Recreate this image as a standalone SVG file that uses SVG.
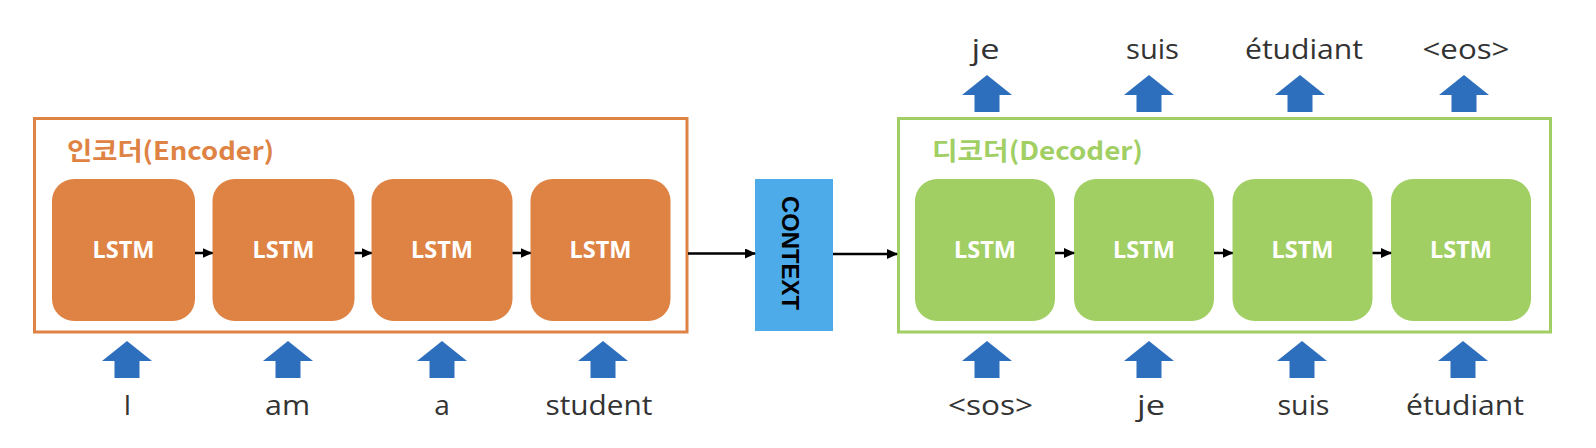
<svg xmlns="http://www.w3.org/2000/svg" width="1596" height="448" viewBox="0 0 1596 448">
<style>
.enc{fill:#DF8344}
.dec{fill:#A1CF63}
.lstm{font-family:"Noto Sans","Liberation Sans",sans-serif;font-weight:bold;font-size:23px;fill:#FFFFFF;text-anchor:middle}
.word{font-family:"Open Sans","Noto Sans","Liberation Sans",sans-serif;font-size:28px;fill:#333333;text-anchor:middle}
.title{font-family:"Noto Sans CJK KR","Noto Sans",sans-serif;font-weight:bold;font-size:25px}
.conn{stroke:#000;stroke-width:2.5;fill:none}
.up{fill:#2E6FBD}
</style>
<defs>
<marker id="ah" markerUnits="userSpaceOnUse" markerWidth="11" markerHeight="10" refX="10" refY="5" orient="auto">
<path d="M0,0 L11,5 L0,10 Z" fill="#000"/>
</marker>
<path id="uparrow" d="M0,0 L25,20 L12.5,20 L12.5,37 L-12.5,37 L-12.5,20 L-25,20 Z"/>
</defs>
<rect width="1596" height="448" fill="#FFFFFF"/>

<g id="encoder">
<rect x="34.5" y="118.5" width="652.5" height="213.5" fill="none" stroke="#DF8344" stroke-width="3"/>
<text class="title" x="67" y="160" fill="#DF8344" textLength="207" lengthAdjust="spacingAndGlyphs">인코더(Encoder)</text>
</g>
<g id="enc-lstm1"><rect class="enc" x="52" y="179" width="143" height="142" rx="22"/><text class="lstm" x="123.5" y="258" textLength="62" lengthAdjust="spacingAndGlyphs">LSTM</text></g>
<g id="enc-lstm2"><rect class="enc" x="212.5" y="179" width="142" height="142" rx="22"/><text class="lstm" x="283.5" y="258" textLength="62" lengthAdjust="spacingAndGlyphs">LSTM</text></g>
<g id="enc-lstm3"><rect class="enc" x="371.5" y="179" width="141" height="142" rx="22"/><text class="lstm" x="442" y="258" textLength="62" lengthAdjust="spacingAndGlyphs">LSTM</text></g>
<g id="enc-lstm4"><rect class="enc" x="530.5" y="179" width="140" height="142" rx="22"/><text class="lstm" x="600.5" y="258" textLength="62" lengthAdjust="spacingAndGlyphs">LSTM</text></g>

<g id="context">
<rect x="755" y="179" width="78" height="152" fill="#4EABE9"/>
<text transform="translate(782,253) rotate(90)" x="0" y="0" text-anchor="middle" font-family="Liberation Sans, Arial, sans-serif" font-weight="bold" font-size="24" fill="#000" textLength="114" lengthAdjust="spacingAndGlyphs">CONTEXT</text>
</g>

<g id="decoder">
<rect x="898.5" y="118.5" width="652" height="213.5" fill="none" stroke="#A1CF63" stroke-width="3"/>
<text class="title" x="932" y="160" fill="#A1CF63" textLength="211" lengthAdjust="spacingAndGlyphs">디코더(Decoder)</text>
</g>
<g id="dec-lstm1"><rect class="dec" x="915" y="179" width="140" height="142" rx="22"/><text class="lstm" x="985" y="258" textLength="62" lengthAdjust="spacingAndGlyphs">LSTM</text></g>
<g id="dec-lstm2"><rect class="dec" x="1074" y="179" width="140" height="142" rx="22"/><text class="lstm" x="1144" y="258" textLength="62" lengthAdjust="spacingAndGlyphs">LSTM</text></g>
<g id="dec-lstm3"><rect class="dec" x="1232.5" y="179" width="140" height="142" rx="22"/><text class="lstm" x="1302.5" y="258" textLength="62" lengthAdjust="spacingAndGlyphs">LSTM</text></g>
<g id="dec-lstm4"><rect class="dec" x="1391" y="179" width="140" height="142" rx="22"/><text class="lstm" x="1461" y="258" textLength="62" lengthAdjust="spacingAndGlyphs">LSTM</text></g>

<g id="connectors">
<line class="conn" x1="195" y1="253" x2="212.5" y2="253" marker-end="url(#ah)"/>
<line class="conn" x1="354.5" y1="253" x2="371.5" y2="253" marker-end="url(#ah)"/>
<line class="conn" x1="512.5" y1="253" x2="530.5" y2="253" marker-end="url(#ah)"/>
<line class="conn" x1="688" y1="253.5" x2="755" y2="253.5" marker-end="url(#ah)"/>
<line class="conn" x1="833" y1="254" x2="897" y2="254" marker-end="url(#ah)"/>
<line class="conn" x1="1055" y1="253" x2="1074" y2="253" marker-end="url(#ah)"/>
<line class="conn" x1="1214" y1="253" x2="1232.5" y2="253" marker-end="url(#ah)"/>
<line class="conn" x1="1372.5" y1="253" x2="1391" y2="253" marker-end="url(#ah)"/>
</g>

<g id="input-arrows" class="up">
<use href="#uparrow" x="127" y="341"/>
<use href="#uparrow" x="288" y="341"/>
<use href="#uparrow" x="442" y="341"/>
<use href="#uparrow" x="603" y="341"/>
<use href="#uparrow" x="987" y="341"/>
<use href="#uparrow" x="1149" y="341"/>
<use href="#uparrow" x="1302" y="341"/>
<use href="#uparrow" x="1463" y="341"/>
</g>
<g id="output-arrows" class="up">
<use href="#uparrow" x="987" y="75"/>
<use href="#uparrow" x="1149" y="75"/>
<use href="#uparrow" x="1300" y="75"/>
<use href="#uparrow" x="1464" y="75"/>
</g>

<g id="input-words">
<text class="word" x="127.5" y="415">I</text>
<text class="word" x="287.5" y="415" textLength="45" lengthAdjust="spacingAndGlyphs">am</text>
<text class="word" x="442" y="415">a</text>
<text class="word" x="599" y="415" textLength="107" lengthAdjust="spacingAndGlyphs">student</text>
<text class="word" x="990.5" y="415" textLength="85" lengthAdjust="spacingAndGlyphs">&lt;sos&gt;</text>
<text class="word" x="1151" y="415" textLength="28" lengthAdjust="spacingAndGlyphs">je</text>
<text class="word" x="1303.5" y="415" textLength="52" lengthAdjust="spacingAndGlyphs">suis</text>
<text class="word" x="1465" y="415" textLength="118" lengthAdjust="spacingAndGlyphs">étudiant</text>
</g>
<g id="output-words">
<text class="word" x="985.5" y="59" textLength="28" lengthAdjust="spacingAndGlyphs">je</text>
<text class="word" x="1152.5" y="59" textLength="53" lengthAdjust="spacingAndGlyphs">suis</text>
<text class="word" x="1304" y="59" textLength="118" lengthAdjust="spacingAndGlyphs">étudiant</text>
<text class="word" x="1466" y="59" textLength="87" lengthAdjust="spacingAndGlyphs">&lt;eos&gt;</text>
</g>
</svg>
